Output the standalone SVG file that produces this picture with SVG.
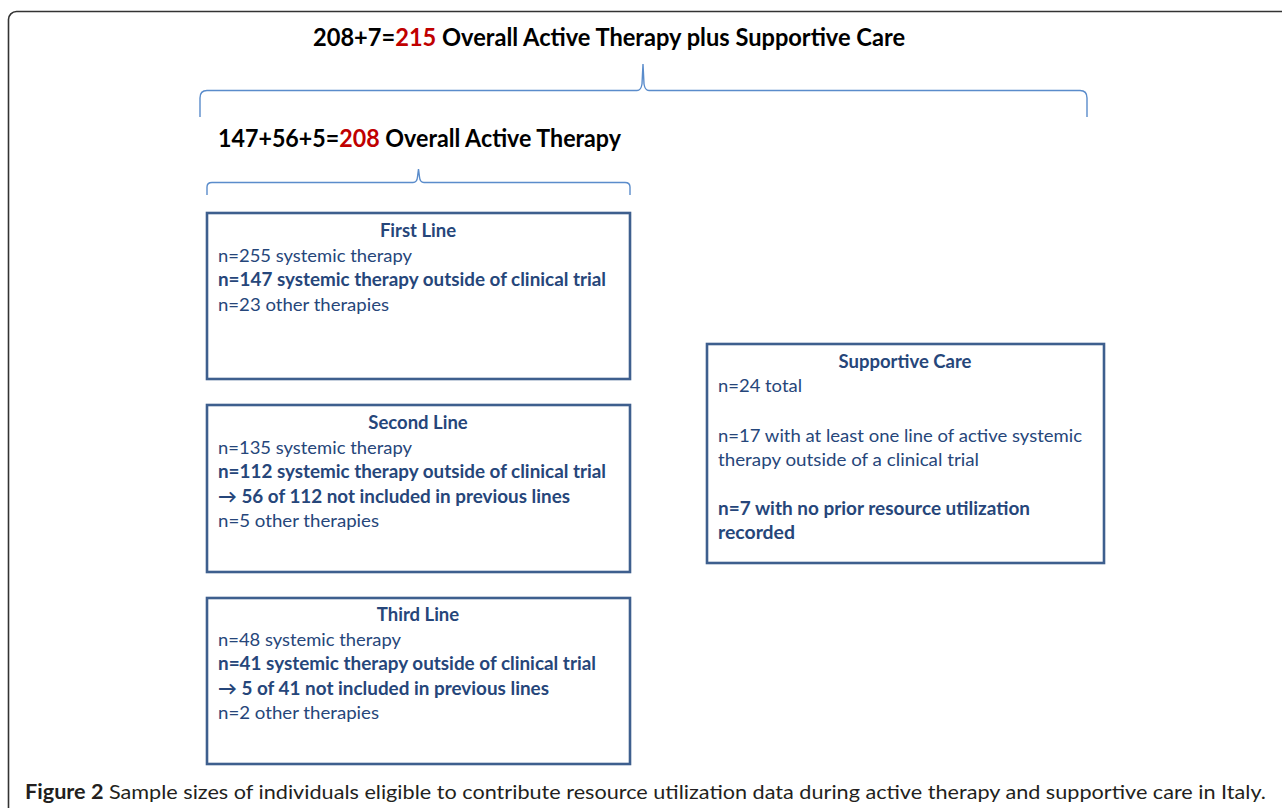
<svg xmlns="http://www.w3.org/2000/svg" width="1282" height="808" viewBox="0 0 1282 808">
<style>
.frame{fill:#fff;stroke:#333;stroke-width:1.6}
.box{fill:#fff;stroke:#3e5f8e;stroke-width:2.6}
.brace{fill:none;stroke:#5a8ccb;stroke-width:1.4}
.hd{font-family:Lato,"Liberation Sans",sans-serif;font-weight:bold;font-size:24px;fill:#000}
.red{fill:#c00000}
.t{font-family:Lato,"Liberation Sans",sans-serif;font-size:18px;fill:#26467a}
.b{font-weight:bold}
.ttl{font-family:Lato,"Liberation Sans",sans-serif;font-size:18.5px;font-weight:bold;fill:#26467a;text-anchor:middle}
.cap{font-family:Lato,"Liberation Sans",sans-serif;font-size:20px;fill:#231f20}
</style>
<rect width="1282" height="808" fill="#fff"/>
<rect class="frame" x="8.5" y="11.5" width="1300" height="830" rx="8"/>
<g id="header-total">
<text class="hd" x="313" y="46" textLength="592" lengthAdjust="spacingAndGlyphs">208+7=<tspan class="red">215</tspan> Overall Active Therapy plus Supportive Care</text>
</g>
<g id="header-active">
<text class="hd" x="218" y="147" textLength="403" lengthAdjust="spacingAndGlyphs">147+56+5=<tspan class="red">208</tspan> Overall Active Therapy</text>
</g>
<g id="connectors">
<path class="brace" d="M200,117 L200,98 Q200,90.5 207,90.5 L637,90.5 Q641,90.5 642,84 L643,64 L644,84 Q645,90.5 649,90.5 L1080,90.5 Q1087,90.5 1087,98 L1087,117"/>
<path class="brace" d="M207,195 L207,187 Q207,182.5 212,182.5 L413,182.5 Q417,182.5 417.5,177 L418.5,169 L419.5,177 Q420,182.5 424,182.5 L625,182.5 Q630,182.5 630,187 L630,195"/>
</g>
<g id="first-line">
<rect class="box" x="207" y="213" width="423" height="166"/>
<text class="ttl" x="418" y="237">First Line</text>
<text class="t" x="218" y="262" textLength="194" lengthAdjust="spacingAndGlyphs">n=255 systemic therapy</text>
<text class="t b" x="218" y="286" textLength="388" lengthAdjust="spacingAndGlyphs">n=147 systemic therapy outside of clinical trial</text>
<text class="t" x="218" y="311" textLength="171" lengthAdjust="spacingAndGlyphs">n=23 other therapies</text>
</g>
<g id="second-line">
<rect class="box" x="207" y="405" width="423" height="167"/>
<text class="ttl" x="418" y="429">Second Line</text>
<text class="t" x="218" y="454" textLength="194" lengthAdjust="spacingAndGlyphs">n=135 systemic therapy</text>
<text class="t b" x="218" y="478" textLength="388" lengthAdjust="spacingAndGlyphs">n=112 systemic therapy outside of clinical trial</text>
<text class="t b" x="218" y="503" textLength="352" lengthAdjust="spacingAndGlyphs">→ 56 of 112 not included in previous lines</text>
<text class="t" x="218" y="527" textLength="161" lengthAdjust="spacingAndGlyphs">n=5 other therapies</text>
</g>
<g id="third-line">
<rect class="box" x="207" y="598" width="423" height="166"/>
<text class="ttl" x="418" y="621">Third Line</text>
<text class="t" x="218" y="646" textLength="183" lengthAdjust="spacingAndGlyphs">n=48 systemic therapy</text>
<text class="t b" x="218" y="670" textLength="378" lengthAdjust="spacingAndGlyphs">n=41 systemic therapy outside of clinical trial</text>
<text class="t b" x="218" y="695" textLength="331" lengthAdjust="spacingAndGlyphs">→ 5 of 41 not included in previous lines</text>
<text class="t" x="218" y="719" textLength="161" lengthAdjust="spacingAndGlyphs">n=2 other therapies</text>
</g>
<g id="supportive-care">
<rect class="box" x="707" y="344" width="397" height="219"/>
<text class="ttl" x="905" y="368">Supportive Care</text>
<text class="t" x="718" y="392" textLength="84" lengthAdjust="spacingAndGlyphs">n=24 total</text>
<text class="t" x="718" y="442" textLength="364" lengthAdjust="spacingAndGlyphs">n=17 with at least one line of active systemic</text>
<text class="t" x="718" y="466" textLength="261" lengthAdjust="spacingAndGlyphs">therapy outside of a clinical trial</text>
<text class="t b" x="718" y="515" textLength="312" lengthAdjust="spacingAndGlyphs">n=7 with no prior resource utilization</text>
<text class="t b" x="718" y="539" textLength="77" lengthAdjust="spacingAndGlyphs">recorded</text>
</g>
<g id="caption">
<text class="cap" x="25" y="799" textLength="1241" lengthAdjust="spacingAndGlyphs"><tspan font-weight="bold">Figure 2</tspan> Sample sizes of individuals eligible to contribute resource utilization data during active therapy and supportive care in Italy.</text>
</g>
</svg>
